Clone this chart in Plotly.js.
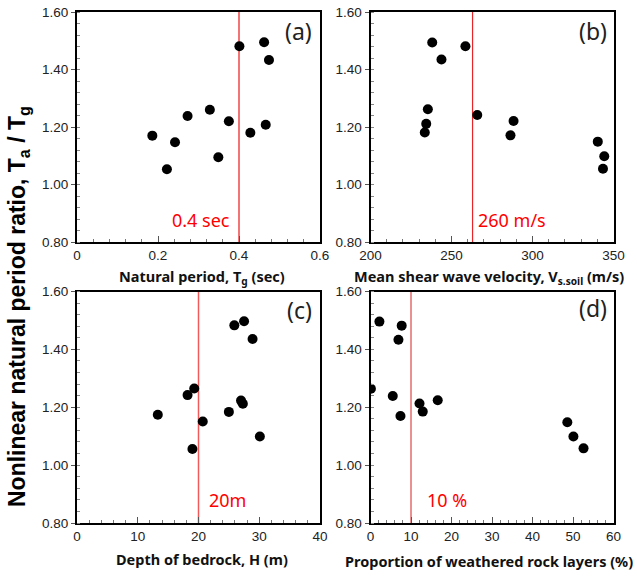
<!DOCTYPE html>
<html>
<head>
<meta charset="utf-8">
<script src="https://cdn.plot.ly/plotly-3.0.1.min.js"></script>
<style>html,body{margin:0;padding:0;background:#fff;}#chart{width:637px;height:577px;}</style>
</head>
<body>
<div id="chart"></div>
<script>
// Ratio Ta/Tg per site
var periodTg = [0.401, 0.462, 0.474, 0.328, 0.273, 0.375, 0.466, 0.186, 0.428, 0.242, 0.349, 0.222];
var ratioA   = [1.481, 1.495, 1.433, 1.260, 1.238, 1.220, 1.208, 1.170, 1.180, 1.147, 1.095, 1.053];

var vsSoil   = [238.1, 258.6, 243.8, 235.4, 234.4, 233.5, 265.9, 288.3, 286.4, 340.3, 344.3, 343.5];
var ratioB   = [1.494, 1.481, 1.435, 1.262, 1.211, 1.181, 1.242, 1.221, 1.171, 1.149, 1.098, 1.055];

var depthH   = [27.5, 25.9, 28.9, 19.3, 18.2, 27.0, 27.3, 25.0, 13.3, 20.7, 30.1, 19.0];
var ratioC   = [1.497, 1.483, 1.436, 1.265, 1.242, 1.223, 1.212, 1.184, 1.174, 1.151, 1.099, 1.056];

var weathered = [2.2, 7.7, 6.9, 0.1, 5.5, 12.1, 16.6, 12.9, 7.4, 48.6, 50.1, 52.6];
var ratioD    = [1.496, 1.482, 1.433, 1.264, 1.239, 1.213, 1.224, 1.185, 1.170, 1.148, 1.099, 1.058];

var thresholds = [0.4, 263, 20, 10];
var thresholdLabels = ['0.4 sec', '260 m/s', '20m', '10 %'];
var panelLabels = ['(a)', '(b)', '(c)', '(d)'];
var xTitles = ['Natural period, T<sub>g</sub> (sec)',
               'Mean shear wave velocity, V<sub>s.soil</sub> (m/s)',
               'Depth of bedrock, H (m)',
               'Proportion of weathered rock layers (%)'];
var yTitle = 'Nonlinear natural period ratio, T<sub>a</sub> / T<sub>g</sub>';

var W = 637, H = 577;
function px(x){ return x / W; }
function py(y){ return 1 - y / H; }

var marker = {color: '#000', size: 10, line: {width: 0}};
var data = [
  {x: periodTg, y: ratioA, xaxis: 'x', yaxis: 'y', mode: 'markers', type: 'scatter', marker: marker},
  {x: vsSoil, y: ratioB, xaxis: 'x2', yaxis: 'y2', mode: 'markers', type: 'scatter', marker: marker},
  {x: depthH, y: ratioC, xaxis: 'x3', yaxis: 'y3', mode: 'markers', type: 'scatter', marker: marker},
  {x: weathered, y: ratioD, xaxis: 'x4', yaxis: 'y4', mode: 'markers', type: 'scatter', marker: marker}
];

var tickFont = {family: 'Liberation Sans, Arial, sans-serif', size: 13.5, color: '#222'};
function xax(domain, range, dtick, minor, anchor){
  return {domain: domain, range: range, dtick: dtick, tick0: range[0], anchor: anchor,
    showline: true, mirror: true, linewidth: 2, linecolor: '#000', showgrid: false, zeroline: false,
    ticks: 'inside', ticklen: 6, tickwidth: 1, tickcolor: '#555', tickfont: tickFont,
    minor: {dtick: minor, ticks: 'inside', ticklen: 3, tickcolor: '#777', tickwidth: 1, showgrid: false},
    fixedrange: true};
}
function yax(domain, anchor){
  return {domain: domain, range: [0.8, 1.6], dtick: 0.2, tick0: 0.8, anchor: anchor, tickformat: '.2f',
    showline: true, mirror: true, linewidth: 2, linecolor: '#000', showgrid: false, zeroline: false,
    ticks: 'outside', ticklen: 4, tickwidth: 1, tickcolor: '#555', tickfont: tickFont,
    minor: {dtick: 0.04, ticks: 'inside', ticklen: 3, tickcolor: '#888', tickwidth: 1, showgrid: false},
    fixedrange: true};
}

var colL = [px(77), px(320)], colR = [px(370.5), px(613.5)];
var rowT = [py(242), py(12)], rowB = [py(523), py(291.5)];

var layout = {
  width: W, height: H, showlegend: false,
  margin: {l: 0, r: 0, t: 0, b: 0},
  paper_bgcolor: '#fff', plot_bgcolor: '#fff',
  xaxis: xax(colL, [0, 0.6], 0.2, 0.04, 'y'),
  yaxis: yax(rowT, 'x'),
  xaxis2: xax(colR, [200, 350], 50, 10, 'y2'),
  yaxis2: yax(rowT, 'x2'),
  xaxis3: xax(colL, [0, 40], 10, 2, 'y3'),
  yaxis3: yax(rowB, 'x3'),
  xaxis4: xax(colR, [0, 60], 10, 2, 'y4'),
  yaxis4: yax(rowB, 'x4'),
  shapes: [],
  annotations: []
};

var lineStyles = [
  {color: '#f47474', width: 2},
  {color: '#e8262a', width: 1.2},
  {color: '#f25a5a', width: 1.5},
  {color: '#d42020', width: 1}
];
var xrefs = ['x', 'x2', 'x3', 'x4'];
var yrefs = ['y', 'y2', 'y3', 'y4'];
for (var i = 0; i < 4; i++) {
  layout.shapes.push({type: 'line', xref: xrefs[i], yref: yrefs[i] + ' domain',
    x0: thresholds[i], x1: thresholds[i], y0: 0, y1: 1, line: lineStyles[i], layer: 'below'});
}

var redFont = {family: 'Noto Sans, sans-serif', size: 18, color: '#ff0000'};
// threshold labels
layout.annotations.push({xref: 'paper', yref: 'paper', x: px(232), y: py(220), xanchor: 'right', yanchor: 'middle', text: thresholdLabels[0], showarrow: false, font: redFont});
layout.annotations.push({xref: 'paper', yref: 'paper', x: px(476), y: py(220), xanchor: 'left', yanchor: 'middle', text: thresholdLabels[1], showarrow: false, font: redFont});
layout.annotations.push({xref: 'paper', yref: 'paper', x: px(207), y: py(500), xanchor: 'left', yanchor: 'middle', text: thresholdLabels[2], showarrow: false, font: redFont});
layout.annotations.push({xref: 'paper', yref: 'paper', x: px(425), y: py(500), xanchor: 'left', yanchor: 'middle', text: thresholdLabels[3], showarrow: false, font: redFont});

// panel letters
var letterFont = {family: 'Noto Sans, sans-serif', size: 23, color: '#222'};
var letterPos = [[314, 31], [609, 31], [314, 310], [609, 308]];
for (var j = 0; j < 4; j++) {
  layout.annotations.push({xref: 'paper', yref: 'paper', x: px(letterPos[j][0]), y: py(letterPos[j][1]),
    xanchor: 'right', yanchor: 'middle', text: panelLabels[j], showarrow: false, font: letterFont});
}

// x-axis titles
var titleFont = {family: 'Noto Sans, sans-serif', size: 14.5, color: '#111', weight: 'bold'};
var titlePos = [[202, 277], [489, 277], [202, 559], [489, 561]];
for (var k = 0; k < 4; k++) {
  layout.annotations.push({xref: 'paper', yref: 'paper', x: px(titlePos[k][0]), y: py(titlePos[k][1]),
    xanchor: 'center', yanchor: 'middle', text: '<b>' + xTitles[k] + '</b>', showarrow: false, font: titleFont});
}

// shared y title
layout.annotations.push({xref: 'paper', yref: 'paper', x: px(18), y: py(307), xanchor: 'center', yanchor: 'middle',
  textangle: -90, text: '<b>' + yTitle + '</b>', showarrow: false,
  font: {family: 'Liberation Sans, Arial, sans-serif', size: 23, color: '#000'}});

Plotly.newPlot('chart', data, layout, {staticPlot: true, displayModeBar: false});
</script>
</body>
</html>
